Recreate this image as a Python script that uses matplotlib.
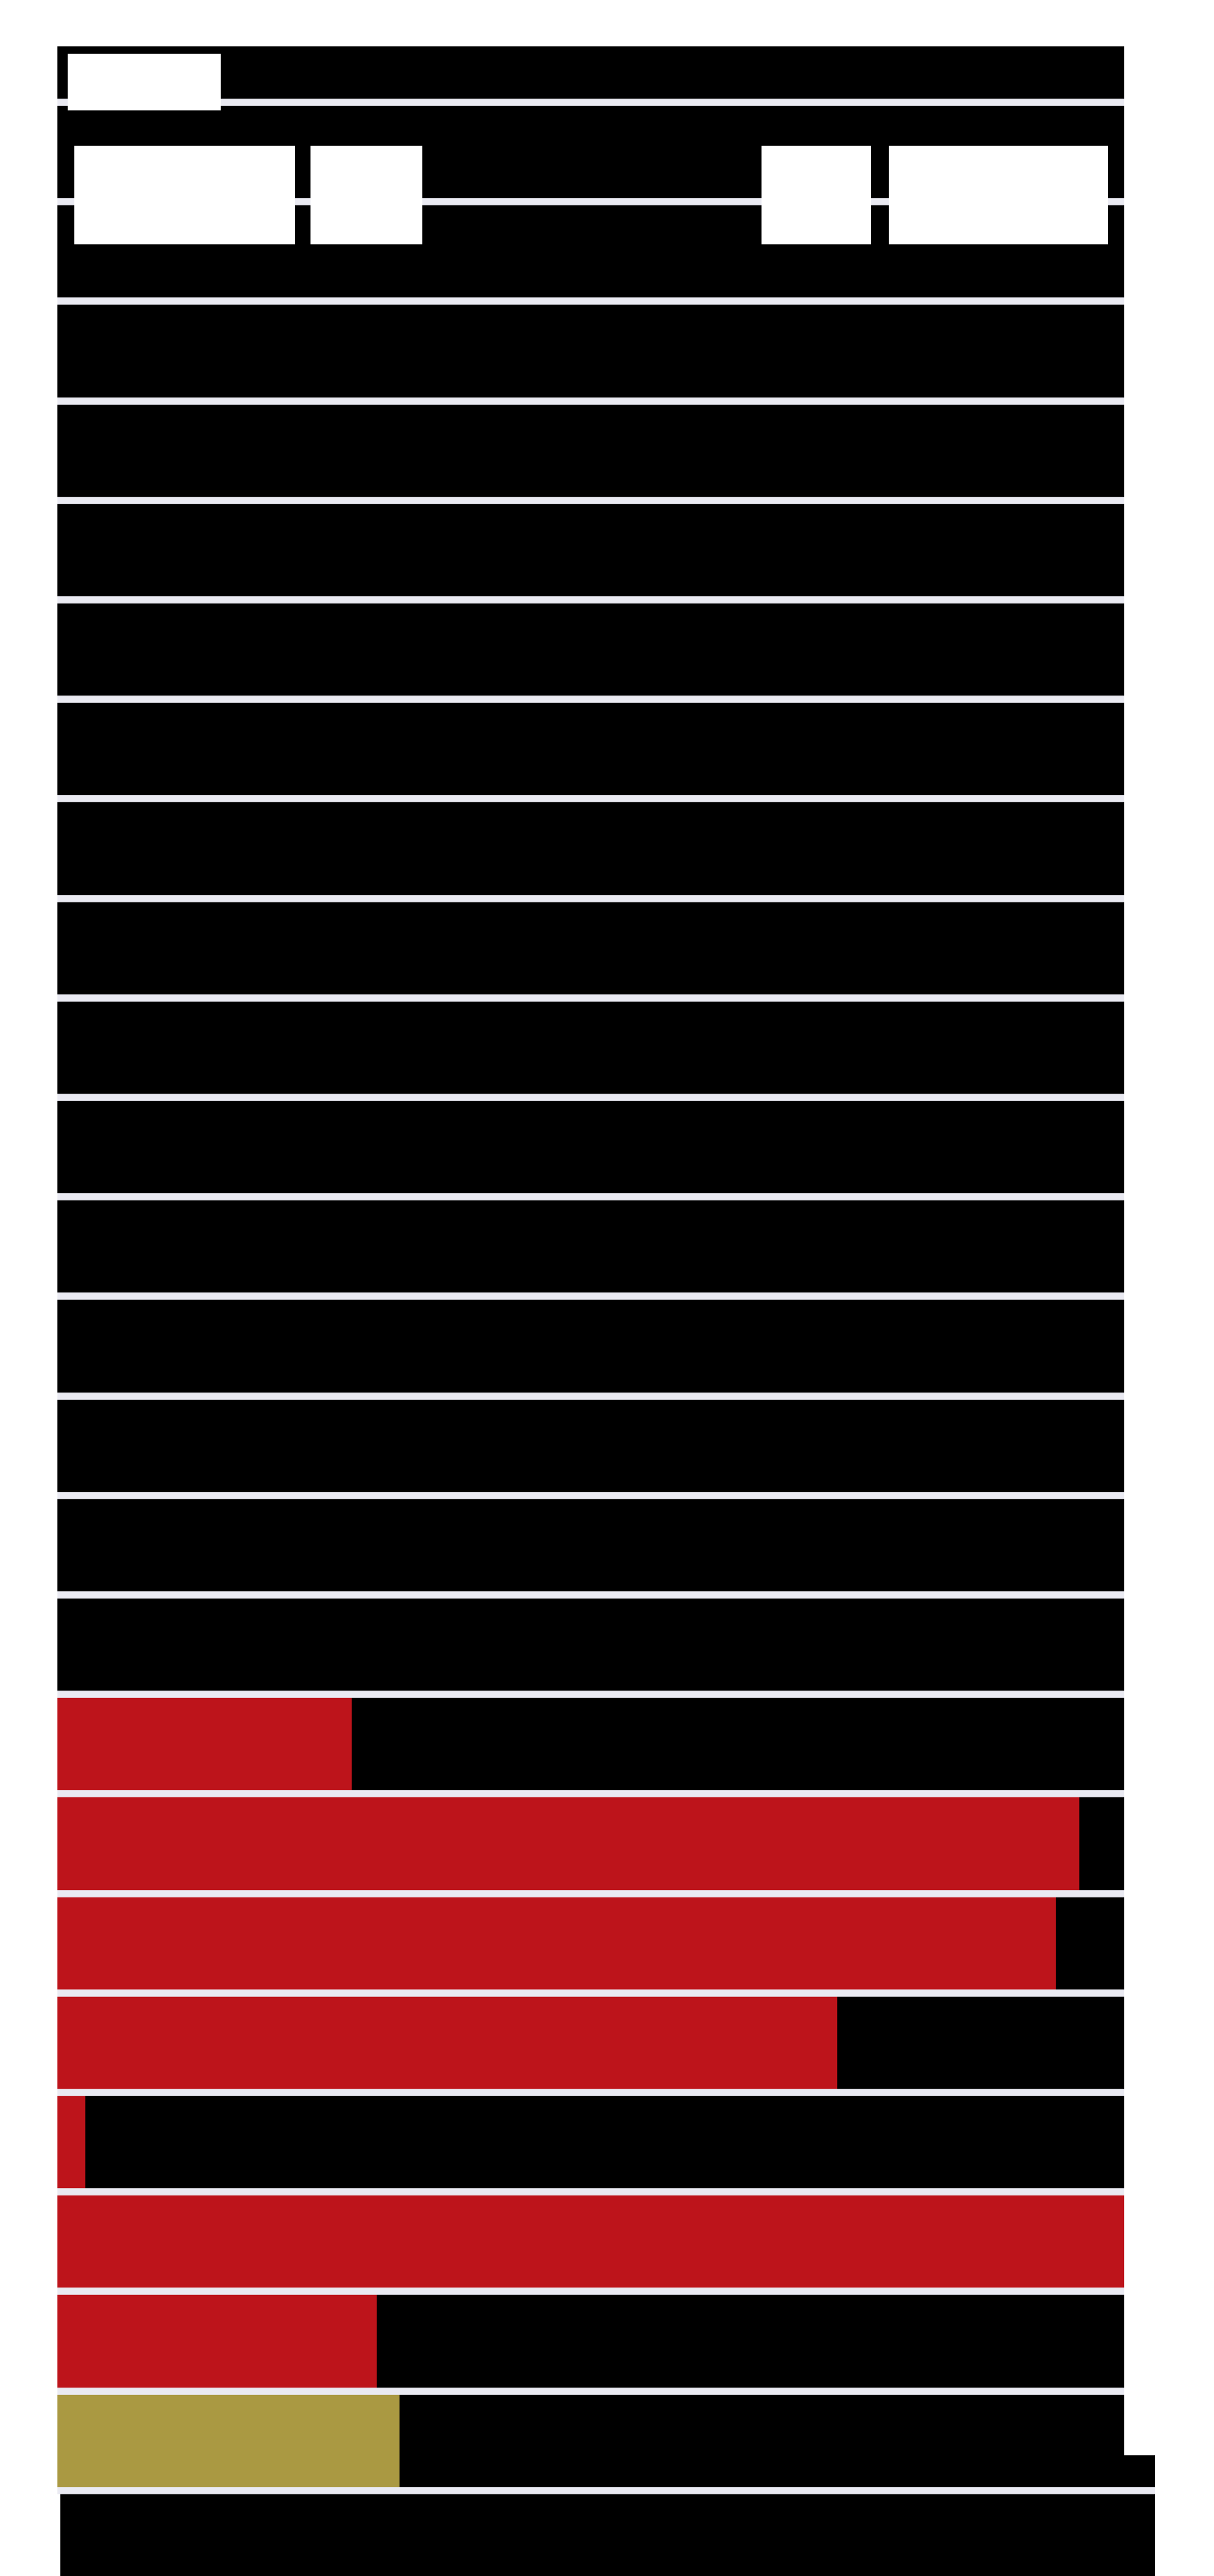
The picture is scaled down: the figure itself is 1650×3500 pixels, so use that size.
import matplotlib
matplotlib.use("Agg")
import matplotlib.pyplot as plt

# one value per row (percent of the track), rows 0..24 from the top
rows = list(range(25))
values = [0, 0, 0, 0, 0, 0, 0, 0, 0, 0, 0, 0, 0, 0, 0, 0, 0,
          27.6, 95.8, 93.6, 73.1, 2.6, 100, 29.9, 32.1]
bar_colors = ["#BD141B"] * 24 + ["#AA9942"]

# white header boxes: (row, left, width)
header_boxes = [(0.30, 1.0, 14.3)]
tab_boxes = [(1.43, 1.6, 20.7), (1.43, 23.7, 10.5), (1.43, 66.0, 10.3), (1.43, 77.9, 20.6)]

track = 100
footer_width = 102.9

BLACK = "#000000"
LAVENDER = "#EAEAF2"

fig = plt.figure(figsize=(16.5, 35), dpi=100)
ax = fig.add_axes([78 / 1650, 0, (1570 - 78) / 1650, (3500 - 63) / 3500])
ax.set_xlim(0, footer_width)
ax.set_ylim(25.36, -0.062)
ax.axis("off")

# footer block, sits under the last row and sticks out a little to the right
ax.barh(25.4, footer_width - 0.3, left=0.3, height=2.5, color=BLACK, zorder=1)

# black track for every row
ax.barh(rows, [track] * len(rows), height=1.0, color=BLACK, zorder=2)

# value bars
ax.barh(rows, values, height=1.0, color=bar_colors, zorder=3)

# row separators
ax.hlines([r + 0.5 for r in rows[:-1]], 0, track, colors=LAVENDER, linewidth=7.0, zorder=4)
ax.hlines([rows[-1] + 0.5], 0, footer_width, colors=LAVENDER, linewidth=7.0, zorder=4)

# header boxes
for y, left, w in header_boxes:
    ax.barh(y, w, left=left, height=0.57, color="white", zorder=5)
for y, left, w in tab_boxes:
    ax.barh(y, w, left=left, height=0.99, color="white", zorder=5)

fig.savefig("out.png", dpi=100, facecolor="white")
